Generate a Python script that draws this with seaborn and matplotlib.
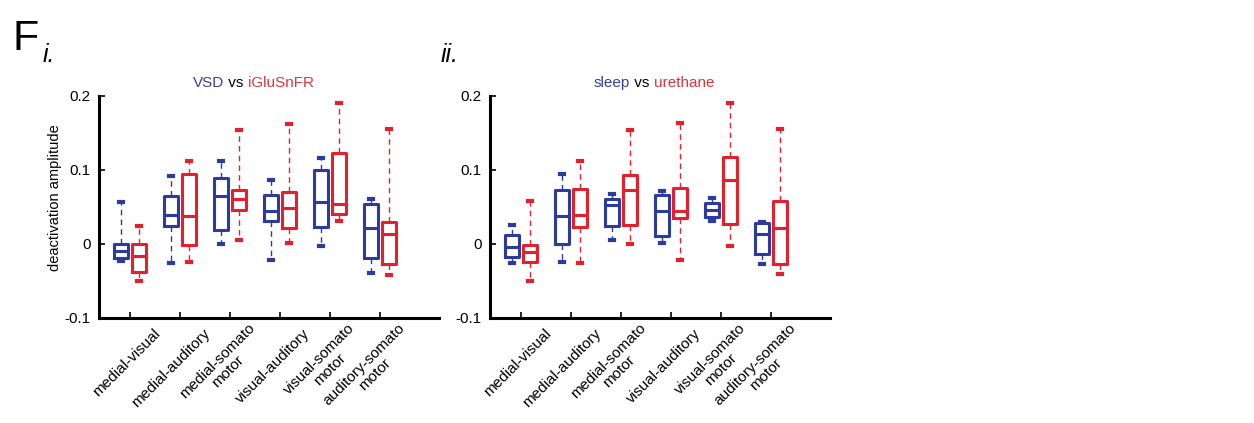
import numpy as np
import pandas as pd
import seaborn as sns
import matplotlib
matplotlib.use("Agg")
import matplotlib.pyplot as plt
from matplotlib.transforms import ScaledTranslation

# ---------------- data ----------------
regions = ["medial-visual", "medial-auditory", "medial-somato\nmotor",
           "visual-auditory", "visual-somato\nmotor", "auditory-somato\nmotor"]

# each box: [min, q1, median, q3, max]
vsd = [
    [-0.024, -0.019, -0.010, -0.001, 0.056],
    [-0.026, 0.024, 0.039, 0.064, 0.092],
    [-0.001, 0.018, 0.064, 0.089, 0.112],
    [-0.0225, 0.030, 0.044, 0.066, 0.0856],
    [-0.0036, 0.0225, 0.057, 0.100, 0.116],
    [-0.039, -0.019, 0.021, 0.054, 0.060],
]
iglu = [
    [-0.051, -0.038, -0.017, 0.000, 0.024],
    [-0.025, -0.002, 0.037, 0.094, 0.112],
    [0.0045, 0.046, 0.060, 0.072, 0.153],
    [0.0014, 0.021, 0.048, 0.070, 0.162],
    [0.0306, 0.0405, 0.054, 0.122, 0.190],
    [-0.042, -0.028, 0.0135, 0.029, 0.155],
]
sleep = [
    [-0.026, -0.018, -0.0045, 0.012, 0.0257],
    [-0.025, -0.001, 0.037, 0.073, 0.094],
    [0.0054, 0.024, 0.052, 0.060, 0.067],
    [0.0014, 0.011, 0.044, 0.066, 0.0707],
    [0.0306, 0.036, 0.046, 0.055, 0.062],
    [-0.028, -0.0144, 0.0135, 0.028, 0.029],
]
urethane = [
    [-0.051, -0.025, -0.011, -0.0014, 0.0577],
    [-0.026, 0.0225, 0.039, 0.074, 0.112],
    [-0.001, 0.025, 0.073, 0.093, 0.154],
    [-0.0225, 0.035, 0.044, 0.0757, 0.163],
    [-0.003, 0.027, 0.0865, 0.117, 0.190],
    [-0.0405, -0.027, 0.021, 0.0577, 0.155],
]
yticks = [-0.1, 0, 0.1, 0.2]
ytick_labels = ["-0.1", "0", "0.1", "0.2"]

BLUE = "#2c3b9e"
RED = "#e3202b"
TBLUE = "#3a3f9a"
TRED = "#d9363e"


def to_frame(a, b, name_a, name_b):
    rows = []
    for reg, va, vb in zip(regions, a, b):
        for v in va:
            rows.append((reg, name_a, v))
        for v in vb:
            rows.append((reg, name_b, v))
    return pd.DataFrame(rows, columns=["region", "group", "value"])


plt.rcParams["font.family"] = ["Liberation Sans", "DejaVu Sans"]
fig = plt.figure(figsize=(12.54, 4.23), dpi=100)

W, H = 1254, 423
def axrect(x0, x1, ytop, ybot):
    return [x0 / W, 1 - ybot / H, (x1 - x0) / W, (ybot - ytop) / H]

ax1 = fig.add_axes(axrect(99, 439, 95.7, 317.7))
ax2 = fig.add_axes(axrect(490, 830, 95.7, 317.7))

panels = [
    (ax1, vsd, iglu, "VSD", "iGluSnFR", 0.403),
    (ax2, sleep, urethane, "sleep", "urethane", 0.447),
]

for ax, a, b, na, nb, tx in panels:
    df = to_frame(a, b, na, nb)
    sns.boxplot(data=df, x="region", y="value", hue="group",
                order=regions, hue_order=[na, nb],
                palette={na: BLUE, nb: RED}, fill=False,
                width=0.72, gap=0.22, whis=(0, 100), linewidth=2.2,
                showfliers=False, legend=False, ax=ax,
                whiskerprops=dict(linestyle=(0, (4, 3)), linewidth=1.0),
                capprops=dict(linewidth=3.0), capwidths=0.09)
    ax.set_xlim(-0.62, 6.18)
    ax.set_ylim(-0.1, 0.2)
    ax.set_yticks(yticks)
    ax.set_yticklabels(ytick_labels)
    ax.set_xlabel("")
    ax.set_ylabel("")
    for s in ["top", "right"]:
        ax.spines[s].set_visible(False)
    for s in ["left", "bottom"]:
        ax.spines[s].set_linewidth(2.2)
        ax.spines[s].set_color("black")
    ax.tick_params(direction="in", length=4, width=1.2, labelsize=11,
                   colors="black", pad=6)
    ax.set_xticks(range(len(regions)))
    ax.set_xticklabels(regions, rotation=45, ha="right", va="center",
                       rotation_mode="anchor", multialignment="center",
                       fontsize=11, linespacing=1.1)
    off = ScaledTranslation(28 / 100, -5 / 100, fig.dpi_scale_trans)
    for lab in ax.get_xticklabels():
        lab.set_transform(lab.get_transform() + off)
    # two-colour title
    vs = ax.text(tx, 1.057, " vs ", transform=ax.transAxes, ha="center",
                 va="center", fontsize=11, color="black")
    ax.annotate(na, xy=(0, 0.5), xycoords=vs, ha="right", va="center",
                fontsize=11, color=TBLUE)
    ax.annotate(nb, xy=(1, 0.5), xycoords=vs, ha="left", va="center",
                fontsize=11, color=TRED)

fig.text(55 / W, 1 - 198 / H, "deactivation amplitude", rotation=90,
         ha="center", va="center", fontsize=10.5)
fig.text(12 / W, 1 - 50 / H, "F", fontsize=31, ha="left", va="baseline")
fig.text(43 / W, 1 - 62 / H, "i.", fontsize=18, style="italic",
         ha="left", va="baseline")
fig.text(441 / W, 1 - 62 / H, "ii.", fontsize=18, style="italic",
         ha="left", va="baseline")

fig.savefig("out.png", dpi=100)
